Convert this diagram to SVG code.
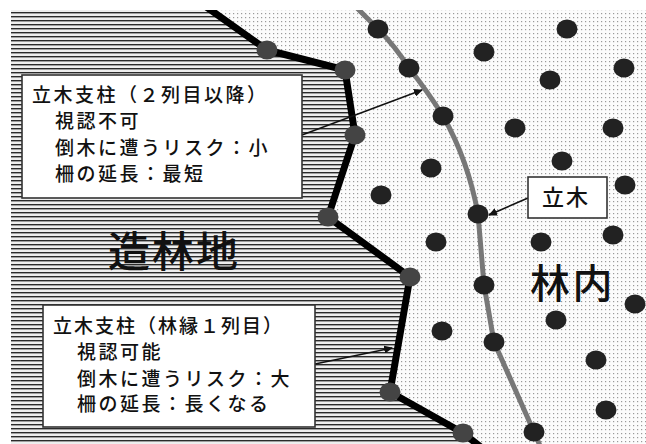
<svg xmlns="http://www.w3.org/2000/svg" width="646" height="444" viewBox="0 0 646 444">
  <style>
    .t { font-family: "Noto Sans CJK JP", "Noto Sans CJK SC", sans-serif; fill: #111; font-weight: 500; }
    .box { fill: #fff; stroke: #333; stroke-width: 1.6; }
    .tree { fill: #222; }
    .post { fill: #444; }
    .arr { stroke: #111; stroke-width: 1.6; fill: none; marker-end: url(#ah); }
  </style>
  <defs>
    <pattern id="hatch" width="8" height="4" patternUnits="userSpaceOnUse">
      <rect width="8" height="4" fill="#eeeeee"/>
      <rect y="0" width="8" height="1.4" fill="#2a2a2a"/>
    </pattern>
    <pattern id="dots" width="4" height="4" patternUnits="userSpaceOnUse">
      <rect width="4" height="4" fill="#fcfcfc"/>
      <rect x="1" y="1" width="1.2" height="1.2" fill="#9a9a9a"/>
    </pattern>
    <marker id="ah" markerWidth="9" markerHeight="8" refX="8" refY="4" orient="auto" markerUnits="userSpaceOnUse">
      <path d="M0,0 L9,4 L0,8 Z" fill="#111"/>
    </marker>
    <clipPath id="area">
      <rect x="11" y="10" width="635" height="434"/>
    </clipPath>
  </defs>

  <rect width="646" height="444" fill="#fff"/>
  <g id="background" clip-path="url(#area)">
    <rect x="11" y="10" width="635" height="434" fill="url(#dots)"/>
    <path d="M11,10 L210.6,10 L267,50 L345,70 L355,135 L328,217 L410,277 L390,392 L463,433 L477.4,444 L11,444 Z" fill="url(#hatch)"/>
  </g>

  <g id="connectors" clip-path="url(#area)">
    <path id="fence" d="M205,6 L267,50 L345,70 L355,135 L328,217 L410,277 L390,392 L463,433 L482,448" fill="none" stroke="#000" stroke-width="7" stroke-linejoin="round"/>
    <path id="treeline" d="M355,6 L378,29 Q395,46 409,68 Q428,92 443,116 Q468,160 478,214 L484,285 L494,342 L534,432 L541,448" fill="none" stroke="#777" stroke-width="5" stroke-linejoin="round"/>
    <line class="arr" x1="302" y1="135" x2="422" y2="90"/>
    <line class="arr" x1="315" y1="364" x2="392" y2="348"/>
    <line class="arr" x1="528" y1="198" x2="489" y2="215"/>
  </g>

  <g id="posts">
    <ellipse class="post" cx="267" cy="50" rx="10.5" ry="9.5"/>
    <ellipse class="post" cx="345" cy="70" rx="10.5" ry="9.5"/>
    <ellipse class="post" cx="355" cy="135" rx="10.5" ry="9.5"/>
    <ellipse class="post" cx="328" cy="217" rx="10.5" ry="9.5"/>
    <ellipse class="post" cx="410" cy="277" rx="10.5" ry="9.5"/>
    <ellipse class="post" cx="390" cy="392" rx="10.5" ry="9.5"/>
    <ellipse class="post" cx="463" cy="433" rx="10.5" ry="9.5"/>
  </g>

  <g id="trees">
    <ellipse class="tree" cx="378" cy="29" rx="10.5" ry="9.5"/>
    <ellipse class="tree" cx="409" cy="68" rx="10.5" ry="9.5"/>
    <ellipse class="tree" cx="443" cy="116" rx="10.5" ry="9.5"/>
    <ellipse class="tree" cx="478" cy="214" rx="10.5" ry="9.5"/>
    <ellipse class="tree" cx="484" cy="285" rx="10.5" ry="9.5"/>
    <ellipse class="tree" cx="494" cy="342" rx="10.5" ry="9.5"/>
    <ellipse class="tree" cx="534" cy="432" rx="10.5" ry="9.5"/>
    <ellipse class="tree" cx="567" cy="29" rx="10.5" ry="9.5"/>
    <ellipse class="tree" cx="484" cy="52" rx="10.5" ry="9.5"/>
    <ellipse class="tree" cx="624" cy="68" rx="10.5" ry="9.5"/>
    <ellipse class="tree" cx="550" cy="80" rx="10.5" ry="9.5"/>
    <ellipse class="tree" cx="515" cy="128" rx="10.5" ry="9.5"/>
    <ellipse class="tree" cx="613" cy="128" rx="10.5" ry="9.5"/>
    <ellipse class="tree" cx="562" cy="161" rx="10.5" ry="9.5"/>
    <ellipse class="tree" cx="431" cy="168" rx="10.5" ry="9.5"/>
    <ellipse class="tree" cx="381" cy="195" rx="10.5" ry="9.5"/>
    <ellipse class="tree" cx="625" cy="185" rx="10.5" ry="9.5"/>
    <ellipse class="tree" cx="436" cy="242" rx="10.5" ry="9.5"/>
    <ellipse class="tree" cx="541" cy="242" rx="10.5" ry="9.5"/>
    <ellipse class="tree" cx="613" cy="235" rx="10.5" ry="9.5"/>
    <ellipse class="tree" cx="635" cy="304" rx="10.5" ry="9.5"/>
    <ellipse class="tree" cx="556" cy="320" rx="10.5" ry="9.5"/>
    <ellipse class="tree" cx="442" cy="331" rx="10.5" ry="9.5"/>
    <ellipse class="tree" cx="596" cy="360" rx="10.5" ry="9.5"/>
    <ellipse class="tree" cx="606" cy="410" rx="10.5" ry="9.5"/>
  </g>

  <g id="box-second-row">
    <rect class="box" x="22" y="75" width="280" height="123"/>
    <text class="t" font-size="19" letter-spacing="2.5" x="32" y="102">立木支柱（２列目以降）</text>
    <text class="t" font-size="19" letter-spacing="2.5" x="55" y="128">視認不可</text>
    <text class="t" font-size="19" letter-spacing="2.5" x="55" y="155">倒木に遭うリスク：小</text>
    <text class="t" font-size="19" letter-spacing="2.5" x="55" y="181">柵の延長：最短</text>
  </g>

  <g id="box-first-row">
    <rect class="box" x="43" y="305" width="272" height="122"/>
    <text class="t" font-size="19" letter-spacing="2" x="53" y="333">立木支柱（林縁１列目）</text>
    <text class="t" font-size="19" letter-spacing="2.5" x="77" y="359">視認可能</text>
    <text class="t" font-size="19" letter-spacing="2.5" x="77" y="386">倒木に遭うリスク：大</text>
    <text class="t" font-size="19" letter-spacing="2.5" x="77" y="411">柵の延長：長くなる</text>
  </g>

  <g id="label-plantation">
    <text class="t" font-size="42" letter-spacing="2" x="108" y="267">造林地</text>
  </g>

  <g id="label-forest">
    <text class="t" font-size="40" letter-spacing="2.5" x="530" y="298">林内</text>
  </g>

  <g id="label-tree">
    <rect class="box" x="528" y="177" width="79" height="41" stroke-width="1.8" stroke="#111"/>
    <text class="t" font-size="22" letter-spacing="2" x="542" y="205" font-weight="normal">立木</text>
  </g>
</svg>
